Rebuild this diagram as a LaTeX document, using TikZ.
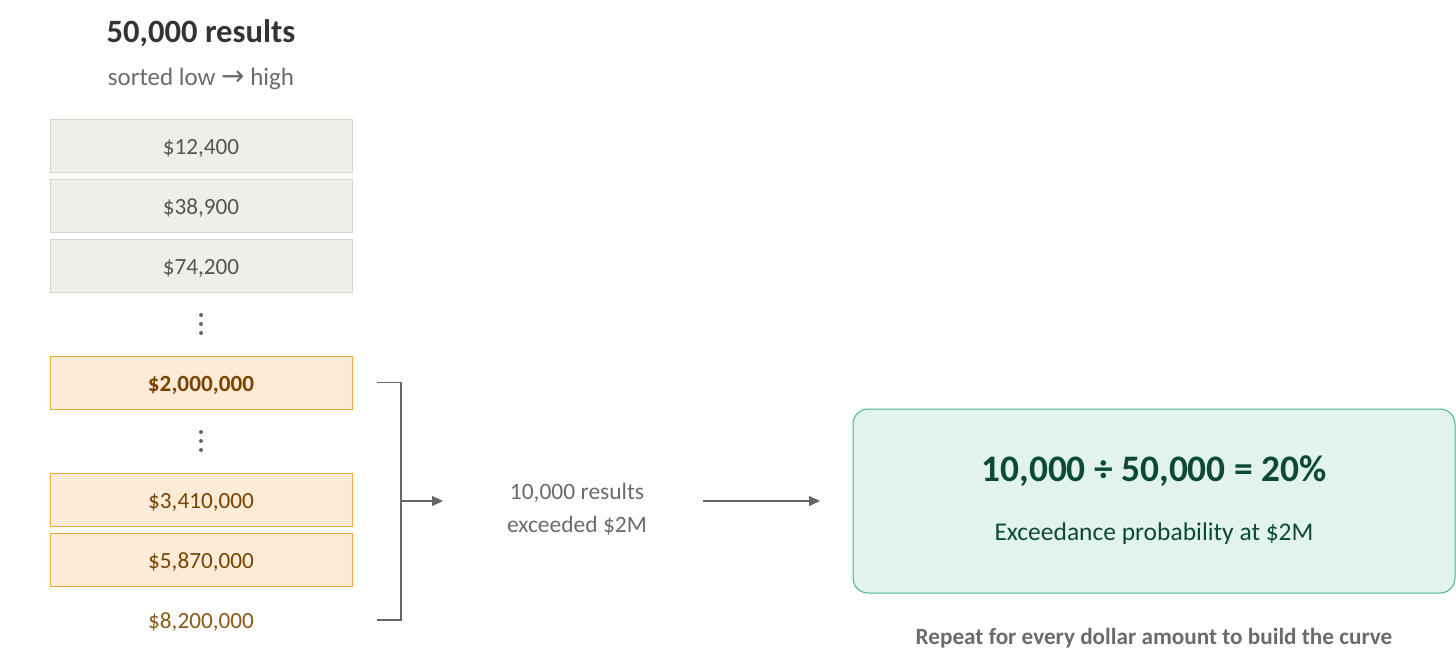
\documentclass[tikz,border=0pt]{standalone}
\usepackage{fontspec}
\setmainfont{Carlito}
\newfontfamily\symfont{DejaVu Sans}
\usetikzlibrary{arrows.meta}
\definecolor{grayfill}{HTML}{F0EEE8}
\definecolor{graydraw}{HTML}{D8D5CD}
\definecolor{graytext}{HTML}{555555}
\definecolor{titletext}{HTML}{333333}
\definecolor{subtext}{HTML}{6B6B6B}
\definecolor{orfill}{HTML}{FBEBD7}
\definecolor{ordraw}{HTML}{F2A93B}
\definecolor{ortext}{HTML}{7B4300}
\definecolor{lasttext}{HTML}{8B5A14}
\definecolor{linecol}{HTML}{666666}
\definecolor{grfill}{HTML}{E1F3EC}
\definecolor{grdraw}{HTML}{4DB38A}
\definecolor{grtext}{HTML}{0D4A36}
\tikzset{
  fs/.style={font=\fontsize{#1}{#1}\selectfont},
  fsb/.style={font=\fontsize{#1}{#1}\selectfont\bfseries},
  boxbase/.style={minimum width=302pt, minimum height=53pt, inner sep=0pt, text height=21pt, text depth=4pt},
  graybox/.style={boxbase, draw=graydraw, fill=grayfill, line width=0.8pt, text=graytext, fs=23.2},
  orbox/.style={boxbase, draw=ordraw, fill=orfill, line width=1pt, text=ortext, fs=23.2},
  orboxb/.style={boxbase, draw=ordraw, fill=orfill, line width=1pt, text=ortext, fsb=23.2},
  dotsnode/.style={circle, fill=linecol, inner sep=0pt, minimum size=4pt},
  conn/.style={draw=linecol, line width=1.2pt},
  arr/.style={conn, -{Triangle[length=11pt,width=10pt]}},
}
\begin{document}
\begin{tikzpicture}[x=1pt,y=-1pt]
\useasboundingbox (0,0) rectangle (1456,664);
\node[fsb=32.6, text=titletext] (title) at (201,33) {50,000 results};
\node[fs=25, text=subtext] (sub) at (201,79) {sorted low {\symfont\fontsize{28}{28}\selectfont →} high};
\node[graybox] (b1) at (201,145.5) {\$12,400};
\node[graybox] (b2) at (201,205.5) {\$38,900};
\node[graybox] (b3) at (201,266) {\$74,200};
\node[dotsnode] (d1a) at (201,315) {};
\node[dotsnode] (d1b) at (201,324) {};
\node[dotsnode] (d1c) at (201,333) {};
\node[orboxb] (b4) at (201,382.5) {\$2,000,000};
\node[dotsnode] (d2a) at (201,432) {};
\node[dotsnode] (d2b) at (201,441) {};
\node[dotsnode] (d2c) at (201,450) {};
\node[orbox] (b5) at (201,499.5) {\$3,410,000};
\node[orbox] (b6) at (201,559.5) {\$5,870,000};
\node[fs=23.2, text=lasttext, text height=21pt, text depth=4pt] (b7) at (201,620) {\$8,200,000};
\coordinate (bt) at (377,382.5);
\coordinate (bb) at (377,620);
\coordinate (bm) at (401,501);
\node[font=\fontsize{23.5}{33}\selectfont, text=subtext, align=center, inner sep=0pt] (res) at (577,509) {10,000 results\\exceeded \$2M};
\draw[conn] (bt) -| (bm) |- (bb);
\draw[arr] (bm) -- (443,501) coordinate (am);
\coordinate (a2s) at (703,501);
\node[draw=grdraw, fill=grfill, line width=1pt, rounded corners=15pt, minimum width=602pt, minimum height=184pt, inner sep=0pt] (green) at (1154,501) {};
\draw[arr] (a2s) -- (green.west -| 820,0);
\node[fsb=37.4, text=grtext] (eq) at (1154,471) {10,000 ÷ 50,000 = 20\%};
\node[fs=25.5, text=grtext] (exc) at (1154,534) {Exceedance probability at \$2M};
\node[fsb=23.2, text=subtext] (rep) at (1154,638) {Repeat for every dollar amount to build the curve};
\end{tikzpicture}
\end{document}
